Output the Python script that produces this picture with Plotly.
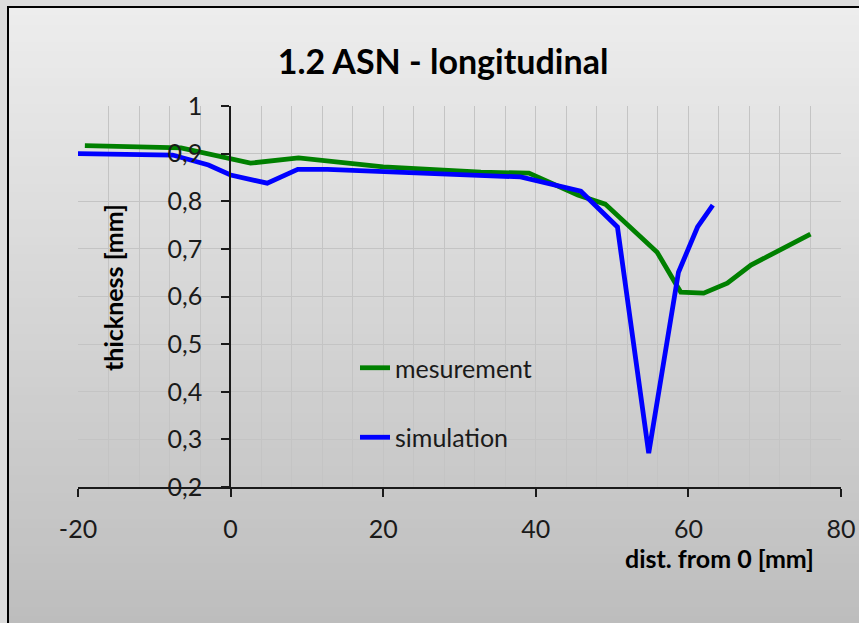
import plotly.graph_objects as go

# Thickness profile along the longitudinal section
meas_x = [-19.1, -6.5, 2.6, 8.9, 20.0, 32.8, 39.1, 45.5, 49.1, 55.9, 58.3, 59.0, 62.0, 65.1, 68.2, 76.0]
meas_y = [0.917, 0.912, 0.880, 0.891, 0.872, 0.861, 0.859, 0.813, 0.794, 0.693, 0.628, 0.609, 0.607, 0.628, 0.666, 0.731]

sim_x = [-20.0, -7.6, -2.9, 0.0, 4.8, 8.8, 12.7, 38.0, 45.9, 50.7, 54.8, 58.7, 61.2, 63.2]
sim_y = [0.900, 0.897, 0.876, 0.855, 0.838, 0.867, 0.867, 0.851, 0.821, 0.746, 0.271, 0.651, 0.746, 0.792]

x_ticks = [-20, 0, 20, 40, 60, 80]
x_tick_text = ["-20", "0", "20", "40", "60", "80"]
y_ticks = [0.2, 0.3, 0.4, 0.5, 0.6, 0.7, 0.8, 0.9, 1.0]
y_tick_text = ["0,2", "0,3", "0,4", "0,5", "0,6", "0,7", "0,8", "0,9", "1"]

W, H = 859, 623
L, R, T, B = 78, 841, 106, 487  # plot area in pixels
FONT = "Lato, 'Open Sans', sans-serif"


def px_x(p):
    return (p - L) / (R - L)


def px_y(p):
    return (B - p) / (B - T)


fig = go.Figure()
fig.add_trace(go.Scatter(x=meas_x, y=meas_y, mode="lines", name="mesurement",
                         line=dict(color="#008000", width=4.8), legendgroup="a"))
fig.add_trace(go.Scatter(x=sim_x, y=sim_y, mode="lines", name="simulation",
                         line=dict(color="#0000ff", width=4.8), legendgroup="b"))

# Framed panel with a vertical grey gradient
shapes = []
top, bottom = 7, H + 2
n = 70
c0, c1 = 237, 189
for i in range(n):
    y0 = top + (bottom - top) * i / n
    y1 = top + (bottom - top) * (i + 1) / n + 0.8
    c = round(c0 + (c1 - c0) * (i + 0.5) / n)
    shapes.append(dict(type="rect", xref="paper", yref="paper", layer="below",
                       x0=px_x(9), x1=px_x(W + 5), y0=px_y(y1), y1=px_y(y0),
                       line=dict(width=0), fillcolor=f"rgb({c},{c},{c})"))
shapes.append(dict(type="rect", xref="paper", yref="paper", layer="below",
                   x0=px_x(8), x1=px_x(W + 10), y0=px_y(H + 10), y1=px_y(7),
                   line=dict(color="black", width=2), fillcolor="rgba(0,0,0,0)"))

fig.update_layout(
    width=W, height=H,
    margin=dict(l=L, r=W - R, t=T, b=H - B, autoexpand=False),
    paper_bgcolor="#dcdcdc",
    plot_bgcolor="rgba(0,0,0,0)",
    shapes=shapes,
    font=dict(family=FONT, size=24, color="#1a1a1a"),
    title=dict(text="<b>1.2 ASN - longitudinal</b>", x=443 / W, xanchor="center",
               y=1 - 62 / H, yanchor="middle",
               font=dict(family=FONT, size=34, color="black")),
    showlegend=True,
    legend=dict(x=px_x(355), y=px_y(345), xanchor="left", yanchor="top",
                bgcolor="rgba(0,0,0,0)", traceorder="grouped", tracegroupgap=34,
                font=dict(family=FONT, size=25, color="#1a1a1a")),
    xaxis=dict(range=[-20, 80], tickvals=x_ticks, ticktext=x_tick_text,
               showgrid=True, automargin=False,
               gridcolor="#c4c4c4", gridwidth=1, zeroline=False,
               minor=dict(dtick=4, showgrid=True, gridcolor="#c4c4c4", gridwidth=1),
               showline=True, linecolor="#1a1a1a", linewidth=1.5,
               ticks="outside", ticklen=8, tickcolor="#1a1a1a", tickwidth=1.5,
               ticklabelstandoff=11, tickfont=dict(size=25)),
    yaxis=dict(range=[0.2, 1.0], tickvals=y_ticks, ticktext=y_tick_text,
               showgrid=True, automargin=False,
               gridcolor="#c4c4c4", gridwidth=1, zeroline=False,
               anchor="free", position=px_x(230),
               showline=True, linecolor="#1a1a1a", linewidth=1.5,
               ticks="outside", ticklen=8, tickcolor="#1a1a1a", tickwidth=1.5,
               ticklabelstandoff=14, tickfont=dict(size=25)),
    annotations=[
        dict(text="<b>thickness [mm]</b>", xref="paper", yref="paper",
             x=px_x(113), y=px_y(288), textangle=-90, showarrow=False,
             xanchor="center", yanchor="middle",
             font=dict(family=FONT, size=25, color="black")),
        dict(text="<b>dist. from 0 [mm]</b>", xref="paper", yref="paper",
             x=px_x(719), y=px_y(558), showarrow=False,
             xanchor="center", yanchor="middle",
             font=dict(family=FONT, size=25, color="black")),
    ],
)

fig.write_html("out.html")
